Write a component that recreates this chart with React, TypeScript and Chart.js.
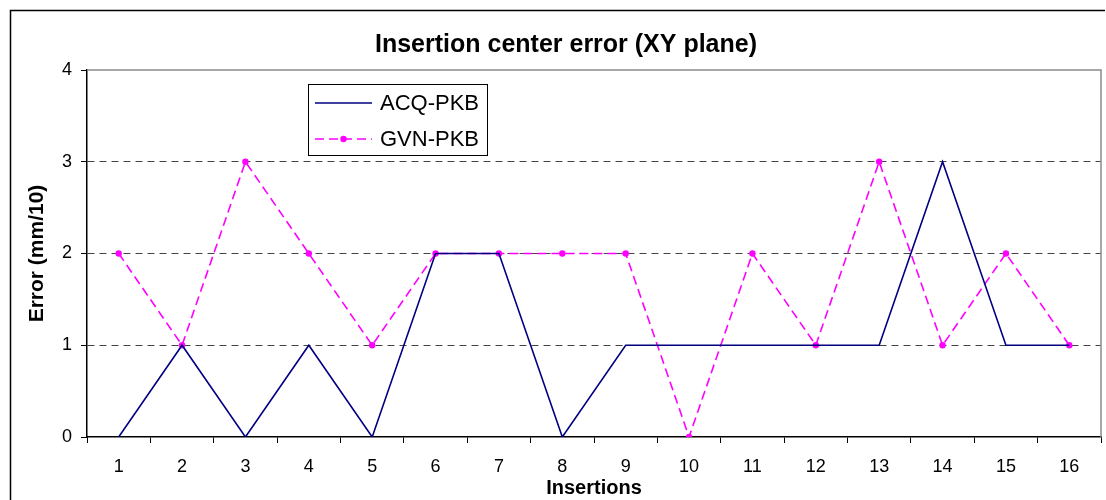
import React, { useEffect, useRef } from "react";
import { Chart, registerables } from "chart.js";

Chart.register(...registerables);

const categories = ["1", "2", "3", "4", "5", "6", "7", "8", "9", "10", "11", "12", "13", "14", "15", "16"];
const acqPkb = [0, 1, 0, 1, 0, 2, 2, 0, 1, 1, 1, 1, 1, 3, 1, 1];
const gvnPkb = [2, 1, 3, 2, 1, 2, 2, 2, 2, 0, 2, 1, 3, 1, 2, 1];
const yTicks = [0, 1, 2, 3, 4];
const titleText = "Insertion center error (XY plane)";
const xTitle = "Insertions";
const yTitle = "Error (mm/10)";
const seriesNames = ["ACQ-PKB", "GVN-PKB"];

const FONT = "'Liberation Sans', Arial, Helvetica, sans-serif";

const decorPlugin = {
  id: "decor",
  beforeDraw(chart: any) {
    const ctx = chart.ctx;
    ctx.save();
    ctx.fillStyle = "#fff";
    ctx.fillRect(0, 0, chart.width, chart.height);
    ctx.restore();
  },
  afterDraw(chart: any) {
    const ctx = chart.ctx;
    const a = chart.chartArea;
    ctx.save();
    // outer frame (top & left)
    ctx.strokeStyle = "#000";
    ctx.lineWidth = 1.5;
    ctx.beginPath();
    ctx.moveTo(10.5, chart.height);
    ctx.lineTo(10.5, 10.5);
    ctx.lineTo(1105, 10.5);
    ctx.stroke();
    // plot area border top & right
    ctx.strokeStyle = "#8a8a8a";
    ctx.lineWidth = 1.5;
    ctx.beginPath();
    ctx.moveTo(a.left, a.top);
    ctx.lineTo(a.right, a.top);
    ctx.lineTo(a.right, a.bottom);
    ctx.stroke();
    // title
    ctx.fillStyle = "#000";
    ctx.textAlign = "center";
    ctx.textBaseline = "alphabetic";
    ctx.font = `bold 25px ${FONT}`;
    ctx.fillText(titleText, 566, 52);
    // x title
    ctx.font = `bold 20px ${FONT}`;
    ctx.textBaseline = "middle";
    ctx.fillText(xTitle, (a.left + a.right) / 2, 488);
    // y title
    ctx.save();
    ctx.font = `bold 21px ${FONT}`;
    ctx.translate(37, (a.top + a.bottom) / 2);
    ctx.rotate(-Math.PI / 2);
    ctx.fillText(yTitle, 0, 0);
    ctx.restore();
    // legend
    const lx = 308.5, ly = 84.5, lw = 179, lh = 71;
    ctx.fillStyle = "#fff";
    ctx.fillRect(lx, ly, lw, lh);
    ctx.strokeStyle = "#000";
    ctx.lineWidth = 1;
    ctx.strokeRect(lx, ly, lw, lh);
    const ds = chart.data.datasets;
    const rows = [103, 139];
    ds.forEach((d: any, i: number) => {
      const y = rows[i];
      ctx.save();
      ctx.strokeStyle = d.borderColor;
      ctx.lineWidth = d.borderWidth;
      ctx.setLineDash(d.borderDash || []);
      ctx.beginPath();
      ctx.moveTo(315, y);
      ctx.lineTo(372, y);
      ctx.stroke();
      ctx.restore();
      if (d.pointRadius > 0) {
        ctx.fillStyle = d.pointBackgroundColor;
        ctx.beginPath();
        ctx.arc(343.5, y, d.pointRadius, 0, Math.PI * 2);
        ctx.fill();
      }
      ctx.fillStyle = "#000";
      ctx.font = `22px ${FONT}`;
      ctx.textAlign = "left";
      ctx.textBaseline = "middle";
      ctx.fillText(seriesNames[i], 380, y + 1);
    });
    ctx.restore();
  },
};

export default function App() {
  const ref = useRef<HTMLCanvasElement | null>(null);
  useEffect(() => {
    if (!ref.current) return;
    const chart = new Chart(ref.current, {
      type: "line",
      data: {
        labels: categories,
        datasets: [
          {
            label: seriesNames[0],
            data: acqPkb,
            borderColor: "#000080",
            backgroundColor: "#000080",
            borderWidth: 1.6,
            pointRadius: 0,
            tension: 0,
          },
          {
            label: seriesNames[1],
            data: gvnPkb,
            borderColor: "#FF00FF",
            backgroundColor: "#FF00FF",
            borderWidth: 1.6,
            borderDash: [9, 5],
            pointRadius: 3.2,
            pointBackgroundColor: "#FF00FF",
            pointBorderWidth: 0,
            tension: 0,
          },
        ],
      },
      options: {
        animation: false,
        responsive: false,
        devicePixelRatio: 1,
        layout: { padding: { top: 70, right: 5, left: 0, bottom: 0 } },
        plugins: { legend: { display: false }, title: { display: false }, tooltip: { enabled: false } },
        scales: {
          x: {
            type: "category",
            offset: true,
            grid: { offset: true, drawOnChartArea: false, tickLength: 6, color: "#000", tickColor: "#000" },
            border: { color: "#000", width: 1.5 },
            ticks: { color: "#000", font: { family: FONT, size: 18 }, padding: 13, maxRotation: 0, autoSkip: false },
            afterFit: (s: any) => { s.height = 63; },
          },
          y: {
            min: 0,
            max: 4,
            afterBuildTicks: (s: any) => { s.ticks = yTicks.map((v) => ({ value: v })); },
            grid: {
              color: (c: any) => (c.tick && c.tick.value > 0 && c.tick.value < 4 ? "#444" : "rgba(0,0,0,0)"),
              lineWidth: 1,
              tickColor: "#000",
              tickLength: 6,
              tickBorderDash: [],
            },
            border: { color: "#000", width: 1.5, dash: [7, 5] },
            ticks: { color: "#000", font: { family: FONT, size: 18 }, padding: 9 },
            afterFit: (s: any) => { s.width = 87; },
          },
        },
      },
      plugins: [decorPlugin],
    });
    return () => chart.destroy();
  }, []);
  return (
    <div style={{ position: "absolute", left: 0, top: 0 }}>
      <canvas ref={ref} width={1106} height={500} style={{ display: "block" }} />
    </div>
  );
}
